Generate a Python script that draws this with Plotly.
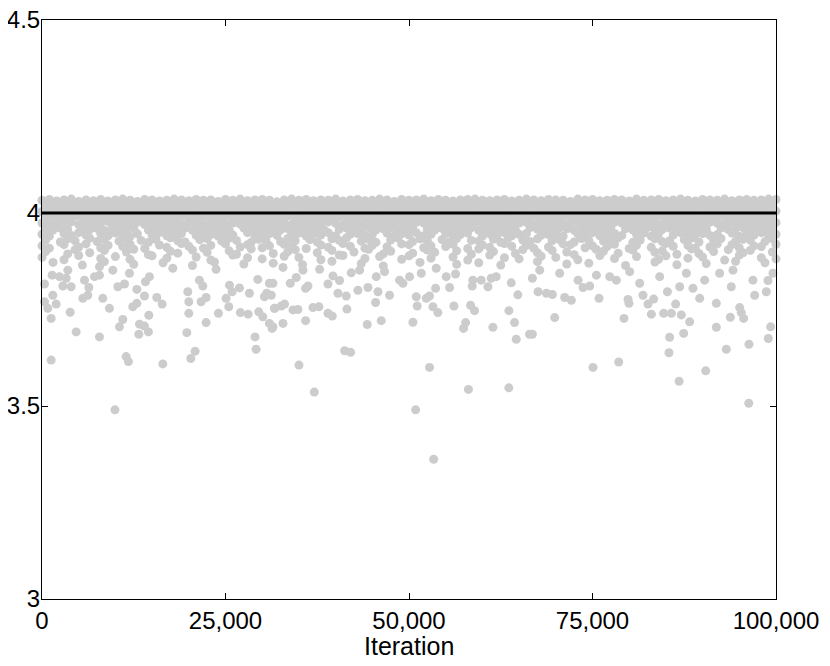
import plotly.graph_objects as go

# thinned chain samples: the dense band is drawn as rows sampled every 1000
# iterations (even rows) or offset by 500 (odd rows); None = no sample visible
iters_even = list(range(0, 100001, 1000))
iters_odd = list(range(500, 100000, 1000))

row_a = [
    4.033, 4.035, 4.031, 4.034, 4.036, 4.030, 4.034, 4.032, 4.035, 4.031,
    4.034, 4.036, 4.033, 4.030, 4.035, 4.034, 4.031, 4.033, 4.036, 4.034,
    4.032, 4.035, 4.033, 4.034, 4.030, 4.035, 4.033, 4.036, 4.032, 4.034,
    4.035, 4.033, 4.029, 4.034, 4.036, 4.033, 4.035, 4.032, 4.034, 4.033,
    4.036, 4.031, 4.034, 4.035, 4.032, 4.033, 4.036, 4.034, 4.030, 4.035,
    4.033, 4.034, 4.036, 4.032, 4.035, 4.033, 4.031, 4.034, 4.035, 4.036,
    4.033, 4.032, 4.034, 4.035, 4.031, 4.033, 4.036, 4.034, 4.032, 4.035,
    4.034, 4.033, 4.030, 4.036, 4.034, 4.035, 4.032, 4.033, 4.035, 4.034,
    4.031, 4.036, 4.033, 4.034, 4.035, 4.032, 4.034, 4.036, 4.033, 4.031,
    4.035, 4.034, 4.033, 4.036, 4.032, 4.034, 4.035, 4.033, 4.034, 4.036,
    4.035,
]
row_b = [
    4.019, 4.021, 4.017, 4.020, 4.022, 4.018, 4.020, 4.019, 4.021, 4.017,
    4.020, 4.018, 4.022, 4.019, 4.021, 4.020, 4.017, 4.019, 4.022, 4.020,
    4.018, 4.021, 4.019, 4.020, 4.017, 4.022, 4.019, 4.021, 4.018, 4.020,
    4.021, 4.019, 4.017, 4.020, 4.022, 4.019, 4.021, 4.018, 4.020, 4.019,
    4.022, 4.017, 4.020, 4.021, 4.018, 4.019, 4.022, 4.020, 4.017, 4.021,
    4.019, 4.020, 4.022, 4.018, 4.021, 4.019, 4.017, 4.020, 4.021, 4.022,
    4.019, 4.018, 4.020, 4.021, 4.017, 4.019, 4.022, 4.020, 4.018, 4.021,
    4.020, 4.019, 4.017, 4.022, 4.020, 4.021, 4.018, 4.019, 4.021, 4.020,
    4.017, 4.022, 4.019, 4.020, 4.021, 4.018, 4.020, 4.022, 4.019, 4.017,
    4.021, 4.020, 4.019, 4.022, 4.018, 4.020, 4.021, 4.019, 4.020, 4.022,
]
row_c = [
    4.004, 4.006, 4.002, 4.005, 4.003, 4.007, 4.004, 4.002, 4.006, 4.005,
    4.003, 4.005, 4.007, 4.004, 4.002, 4.006, 4.004, 4.005, 4.003, 4.007,
    4.005, 4.002, 4.004, 4.006, 4.003, 4.005, 4.007, 4.004, 4.002, 4.005,
    4.006, 4.004, 4.003, 4.007, 4.005, 4.002, 4.004, 4.006, 4.005, 4.003,
    4.004, 4.007, 4.002, 4.005, 4.006, 4.004, 4.003, 4.005, 4.007, 4.002,
    4.006, 4.004, 4.005, 4.003, 4.007, 4.004, 4.002, 4.006, 4.005, 4.004,
    4.003, 4.005, 4.007, 4.002, 4.004, 4.006, 4.005, 4.003, 4.004, 4.007,
    4.002, 4.005, 4.004, 4.006, 4.003, 4.005, 4.007, 4.004, 4.002, 4.006,
    4.005, 4.003, 4.004, 4.007, 4.005, 4.002, 4.006, 4.004, 4.005, 4.003,
    4.007, 4.004, 4.002, 4.005, 4.006, 4.003, 4.005, 4.004, 4.007, 4.002,
    4.005,
]
row_d = [
    3.989, 3.991, 3.987, 3.990, 3.992, 3.988, 3.990, 3.986, 3.991, 3.989,
    3.987, 3.990, 3.992, 3.988, 3.989, 3.991, 3.986, 3.990, 3.988, 3.992,
    3.989, 3.987, 3.991, 3.990, 3.988, 3.992, 3.989, 3.986, 3.990, 3.991,
    3.988, 3.990, 3.987, 3.992, 3.989, 3.991, 3.988, 3.990, 3.986, 3.989,
    3.991, 3.988, 3.990, 3.992, 3.987, 3.989, 3.991, 3.990, 3.988, 3.986,
    3.990, 3.992, 3.989, 3.987, 3.991, 3.988, 3.990, 3.989, 3.992, 3.987,
    3.989, 3.991, 3.988, 3.990, 3.986, 3.992, 3.989, 3.991, 3.987, 3.990,
    3.988, 3.992, 3.990, 3.989, 3.987, 3.991, 3.988, 3.990, 3.992, 3.986,
    3.990, 3.988, 3.991, 3.989, 3.992, 3.987, 3.990, 3.988, 3.991, 3.989,
    3.987, 3.990, 3.992, 3.988, 3.989, 3.991, 3.986, 3.990, 3.989, 3.991,
]
row_e = [
    3.974, 3.971, 3.976, 3.973, 3.977, 3.970, 3.975, 3.972, 3.974, 3.978,
    3.971, 3.975, 3.973, 3.976, 3.970, 3.974, 3.977, 3.972, 3.975, 3.971,
    3.976, 3.973, 3.970, 3.975, 3.977, 3.972, 3.974, 3.971, 3.976, 3.973,
    3.975, 3.978, 3.972, 3.974, 3.970, 3.976, 3.973, 3.975, 3.971, 3.977,
    3.973, 3.970, 3.975, 3.972, 3.976, 3.974, 3.971, 3.977, 3.973, 3.975,
    3.972, 3.976, 3.974, 3.970, 3.975, 3.973, 3.977, 3.971, 3.974, 3.976,
    3.973, 3.975, 3.971, 3.977, 3.972, 3.974, 3.976, 3.970, 3.975, 3.973,
    3.977, 3.972, 3.974, 3.976, 3.971, 3.975, 3.973, 3.970, 3.976, 3.974,
    3.972, 3.975, 3.977, 3.973, 3.971, 3.976, 3.974, 3.972, 3.975, 3.973,
    3.970, 3.976, 3.974, 3.972, 3.977, 3.973, 3.975, 3.971, 3.976, 3.974,
    3.975,
]
row_f = [
    3.959, 3.956, 3.961, 3.958, None, 3.962, 3.957, 3.960, 3.955, 3.959,
    3.961, 3.957, 3.960, None, 3.956, 3.962, 3.958, 3.960, 3.957, 3.961,
    3.955, 3.959, 3.962, 3.958, 3.960, 3.956, None, 3.961, 3.959, 3.957,
    3.960, 3.962, 3.956, 3.959, 3.961, 3.957, 3.960, 3.958, 3.955, None,
    3.958, 3.961, 3.957, 3.960, 3.962, 3.956, 3.959, 3.961, 3.957, 3.960,
    3.962, None, 3.958, 3.956, 3.960, 3.961, 3.957, 3.959, 3.962, 3.955,
    3.959, 3.957, 3.961, 3.960, 3.956, None, 3.962, 3.958, 3.960, 3.957,
    3.961, 3.959, 3.955, 3.962, 3.958, 3.960, 3.957, 3.961, None, 3.959,
    3.956, 3.960, 3.962, 3.958, 3.957, 3.961, 3.959, 3.956, 3.960, 3.962,
    3.958, None, 3.961, 3.957, 3.959, 3.962, 3.956, 3.960, 3.958, 3.961,
]
row_g = [
    3.945, 3.940, None, 3.947, 3.942, 3.949, 3.943, None, 3.946, 3.941,
    3.948, 3.944, 3.939, 3.946, None, 3.943, 3.949, 3.941, 3.945, 3.947,
    None, 3.942, 3.948, 3.944, 3.940, 3.946, 3.943, None, 3.949, 3.941,
    3.945, 3.947, 3.942, None, 3.944, 3.948, 3.940, 3.946, 3.943, 3.949,
    3.941, None, 3.945, 3.947, 3.942, 3.944, None, 3.948, 3.940, 3.946,
    3.943, 3.949, 3.941, 3.945, None, 3.947, 3.942, 3.944, 3.948, None,
    3.940, 3.946, 3.943, 3.949, 3.941, 3.945, 3.947, None, 3.942, 3.944,
    3.948, 3.940, None, 3.946, 3.943, 3.949, 3.941, 3.945, 3.947, 3.942,
    None, 3.944, 3.948, 3.940, 3.946, None, 3.943, 3.949, 3.941, 3.945,
    3.947, 3.942, 3.944, None, 3.948, 3.940, 3.946, 3.943, 3.949, 3.941,
    3.945,
]
row_h = [
    3.930, None, 3.925, 3.933, 3.928, None, 3.935, 3.926, 3.931, None,
    3.927, 3.934, None, 3.929, 3.924, 3.932, None, 3.936, 3.928, 3.925,
    None, 3.931, 3.933, None, 3.927, 3.935, 3.929, None, 3.924, 3.932,
    3.930, None, 3.926, 3.934, 3.928, None, 3.931, 3.925, None, 3.933,
    3.929, 3.936, None, 3.927, 3.932, 3.924, None, 3.930, 3.935, None,
    3.926, 3.933, 3.928, None, 3.931, 3.925, 3.934, None, 3.929, 3.927,
    None, 3.932, 3.924, 3.935, None, 3.930, 3.926, 3.933, None, 3.928,
    3.931, None, 3.925, 3.934, 3.929, None, 3.927, 3.932, 3.936, None,
    3.924, 3.930, None, 3.933, 3.926, 3.928, None, 3.931, 3.935, 3.925,
    None, 3.929, 3.934, None, 3.927, 3.932, 3.930, None, 3.926, 3.933,
]
row_i = [
    3.915, 3.909, None, 3.918, None, 3.912, 3.920, None, 3.910, 3.916,
    None, 3.913, 3.919, None, 3.908, None, 3.917, 3.911, None, 3.921,
    3.914, None, 3.909, 3.916, None, 3.920, None, 3.912, 3.918, None,
    3.910, 3.915, None, 3.919, 3.913, None, 3.908, None, 3.917, 3.911,
    None, 3.921, 3.914, None, 3.909, 3.916, None, 3.912, None, 3.920,
    3.918, None, 3.910, 3.915, None, 3.913, 3.919, None, 3.908, None,
    3.917, 3.911, None, 3.921, 3.914, None, 3.916, 3.909, None, 3.912,
    None, 3.920, 3.918, None, 3.910, 3.915, None, 3.913, 3.919, None,
    3.908, 3.917, None, 3.911, None, 3.921, 3.914, None, 3.916, 3.909,
    None, 3.912, 3.920, None, 3.918, 3.910, None, 3.915, 3.913, None,
    3.919,
]
row_j = [
    3.900, None, None, 3.894, 3.905, None, 3.897, None, 3.903, None,
    None, 3.899, 3.906, None, 3.892, None, None, 3.901, 3.896, None,
    3.904, None, 3.898, None, None, 3.902, 3.893, None, 3.907, None,
    None, 3.895, None, 3.900, 3.905, None, None, 3.897, None, 3.903,
    3.891, None, 3.899, None, 3.906, None, 3.894, 3.901, None, None,
    3.896, None, 3.904, 3.898, None, None, 3.902, None, 3.893, 3.907,
    None, 3.900, None, None, 3.895, 3.905, None, 3.897, None, 3.903,
    None, 3.899, 3.892, None, None, 3.906, 3.901, None, 3.896, None,
    3.904, None, None, 3.898, 3.902, None, 3.893, None, 3.907, 3.895,
    None, 3.900, None, 3.905, None, 3.897, 3.903, None, None, 3.899,
]
row_k = [
    3.885, None, None, 3.879, None, 3.890, None, None, 3.882, None,
    3.887, None, 3.880, None, None, 3.889, None, 3.883, None, None,
    None, 3.886, None, 3.878, None, None, 3.891, None, 3.884, None,
    3.881, None, None, 3.888, None, 3.885, None, None, 3.879, None,
    None, 3.890, None, None, 3.882, None, 3.887, None, None, 3.880,
    3.889, None, None, 3.883, None, None, 3.886, None, 3.878, None,
    None, 3.891, None, 3.884, None, 3.881, None, None, 3.888, None,
    3.885, None, None, 3.879, None, None, 3.890, None, 3.882, None,
    None, 3.887, None, None, 3.880, 3.889, None, None, 3.883, None,
    3.886, None, None, 3.878, None, 3.891, None, None, 3.884, None,
    3.881,
]
row_l = [
    None, 3.872, None, None, None, 3.865, None, None, 3.874, None,
    None, None, 3.867, None, None, None, 3.871, None, None, None,
    3.864, None, None, 3.873, None, None, None, 3.868, None, None,
    None, 3.870, None, None, None, 3.866, None, None, None, 3.875,
    None, None, None, 3.869, None, None, 3.863, None, None, None,
    None, 3.872, None, None, None, None, 3.867, None, None, 3.871,
    None, None, 3.865, None, None, None, None, 3.874, None, None,
    None, 3.868, None, None, 3.870, None, None, None, None, 3.864,
    None, None, None, 3.873, None, None, 3.866, None, None, None,
    3.869, None, None, None, 3.875, None, None, None, 3.871, None,
]

# scattered low samples
out_iter = [
    340, 1380, 1470, 340, 790, 1930, 1250, 3840, 4650, 1250,
    2840, 3970, 3290, 5560, 6240, 6380, 5790, 7150, 7830, 8280,
    9190, 7830, 10330, 11240, 10550, 11010, 11460, 11780, 12370, 12920,
    12920, 13280, 13190, 13960, 14500, 13960, 14550, 14100, 15640, 16370,
    14640, 16460, 17820, 19860, 20000, 20000, 19730, 20270, 20860, 21450,
    21900, 22360, 21680, 22360, 24040, 25080, 25450, 25900, 25540, 26900,
    27030, 28080, 28260, 29400, 29530, 30080, 30980, 31350, 29030, 29170,
    30300, 30620, 30980, 31670, 9650, 11920, 3520, 2380, 7830, 23720,
    9940,
    31460, 32830, 31690, 33050, 32600, 34190, 34870, 35910, 36910, 37730,
    38960, 39550, 41540, 41230, 42040, 35010, 37100, 44310, 46220, 45450,
    47350, 50530, 51120, 52800, 53260, 53940, 52350, 52800, 56120, 57430,
    57710, 58100, 58390, 58930, 61430, 63600, 63610, 64380, 64610, 66420,
    64830, 63930, 58610, 58700, 59840, 60750, 61200, 61880, 55530, 53620,
    56340, 50990, 51670, 48720, 49170, 50080, 45770, 44400, 43040, 41450,
    40320, 38960, 39640, 40540, 35910, 36230, 33830, 34640, 35550, 31240,
    31460, 45540, 46670, 42130, 43270, 37820, 32830, 55070, 53710, 50900,
    53360,
    66810, 67580, 68720, 69530, 69850, 66810, 71210, 72120, 73030, 73710,
    74620, 75890, 75070, 78570, 79290, 79840, 79970, 81880, 82560, 83330,
    83020, 84700, 85740, 85200, 86330, 86880, 87100, 88240, 87420, 85510,
    85420, 86800, 90420, 89600, 88690, 91870, 91870, 93230, 93780, 95050,
    95590, 95270, 96320, 97090, 98680, 98910, 99270, 98950, 93910, 77340,
    78250, 81430, 84150, 90280, 92320, 96860, 99590, 70530, 67810, 75530,
    80070, 87790, 94140, 96290,
]
out_value = [
    3.816, 3.839, 3.787, 3.770, 3.753, 3.764, 3.727, 3.743, 3.692, 3.619,
    3.811, 3.809, 3.831, 3.779, 3.787, 3.807, 3.826, 3.835, 3.839, 3.779,
    3.753, 3.679, 3.809, 3.816, 3.705, 3.724, 3.628, 3.615, 3.757, 3.766,
    3.802, 3.712, 3.686, 3.707, 3.692, 3.785, 3.735, 3.822, 3.781, 3.764,
    3.835, 3.609, 3.857, 3.796, 3.770, 3.740, 3.690, 3.623, 3.642, 3.826,
    3.811, 3.781, 3.770, 3.716, 3.740, 3.779, 3.757, 3.796, 3.813, 3.806,
    3.742, 3.738, 3.792, 3.828, 3.744, 3.731, 3.714, 3.701, 3.679, 3.647,
    3.783, 3.792, 3.818, 3.753, 3.852, 3.844, 3.852, 3.835, 3.861, 3.854,
    3.490,
    3.705, 3.714, 3.753, 3.764, 3.759, 3.749, 3.750, 3.721, 3.755, 3.757,
    3.740, 3.733, 3.751, 3.643, 3.639, 3.606, 3.536, 3.711, 3.721, 3.768,
    3.787, 3.717, 3.759, 3.600, 3.757, 3.742, 3.779, 3.785, 3.759, 3.701,
    3.716, 3.543, 3.761, 3.747, 3.704, 3.547, 3.747, 3.716, 3.673, 3.686,
    3.788, 3.819, 3.811, 3.826, 3.826, 3.809, 3.831, 3.835, 3.807, 3.805,
    3.842, 3.783, 3.844, 3.826, 3.818, 3.835, 3.796, 3.807, 3.800, 3.785,
    3.792, 3.816, 3.837, 3.825, 3.805, 3.811, 3.818, 3.833, 3.852, 3.787,
    3.818, 3.835, 3.848, 3.845, 3.852, 3.854, 3.859, 3.835, 3.857, 3.490,
    3.362,
    3.831, 3.796, 3.792, 3.789, 3.729, 3.686, 3.781, 3.774, 3.826, 3.807,
    3.811, 3.779, 3.600, 3.614, 3.727, 3.776, 3.766, 3.787, 3.764, 3.777,
    3.738, 3.740, 3.740, 3.796, 3.764, 3.809, 3.736, 3.718, 3.688, 3.678,
    3.638, 3.564, 3.591, 3.779, 3.805, 3.766, 3.704, 3.647, 3.730, 3.755,
    3.727, 3.742, 3.660, 3.787, 3.796, 3.825, 3.705, 3.675, 3.809, 3.835,
    3.826, 3.818, 3.835, 3.826, 3.844, 3.826, 3.844, 3.844, 3.852, 3.839,
    3.848, 3.844, 3.852, 3.507,
]

true_value = 4.0
x_ticks = [0, 25000, 50000, 75000, 100000]
x_labels = ["0", "25,000", "50,000", "75,000", "100,000"]
y_ticks = [3, 3.5, 4, 4.5]
y_labels = ["3", "3.5", "4", "4.5"]

GREY = "#cccccc"
FONT = "Liberation Sans, Arial, Helvetica, sans-serif"

fig = go.Figure()

even_rows = [row_a, row_c, row_e, row_g, row_i, row_k]
odd_rows = [row_b, row_d, row_f, row_h, row_j, row_l]
xs, ys = [], []
for row in even_rows:
    xs += iters_even
    ys += row
for row in odd_rows:
    xs += iters_odd
    ys += row
xs += out_iter
ys += out_value

fig.add_trace(go.Scatter(
    x=xs, y=ys, mode="markers",
    marker=dict(color=GREY, size=9, line=dict(width=0)),
    cliponaxis=False, showlegend=False, hoverinfo="skip",
))

fig.add_trace(go.Scatter(
    x=[x_ticks[0], x_ticks[-1]], y=[true_value, true_value], mode="lines",
    line=dict(color="black", width=3), showlegend=False,
))

axis_style = dict(
    showgrid=False, zeroline=False, showline=True, linecolor="black",
    linewidth=1, mirror="ticks", ticks="inside", ticklen=6,
    tickcolor="black", tickwidth=1, automargin=False,
    ticklabeloverflow="allow",
)
fig.update_xaxes(range=[0, 100000], tickvals=x_ticks, ticktext=x_labels, **axis_style)
fig.update_yaxes(
    range=[3, 4.5], tickvals=y_ticks, ticktext=y_labels,
    ticklabelstandoff=-4, **axis_style,
)

# x label placed as an annotation so it sits exactly under the tick labels
fig.add_annotation(
    text="Iteration", xref="paper", yref="paper", x=0.5, y=-0.081,
    xanchor="center", yanchor="middle", showarrow=False,
    font=dict(size=25),
)

# the page body keeps its default 8px margin, so the figure is 8px smaller
fig.update_layout(
    width=822, height=658,
    margin=dict(l=34, r=54, t=12, b=67),
    paper_bgcolor="white", plot_bgcolor="white",
    font=dict(family=FONT, size=24, color="black"),
)

fig.write_html("out.html")
